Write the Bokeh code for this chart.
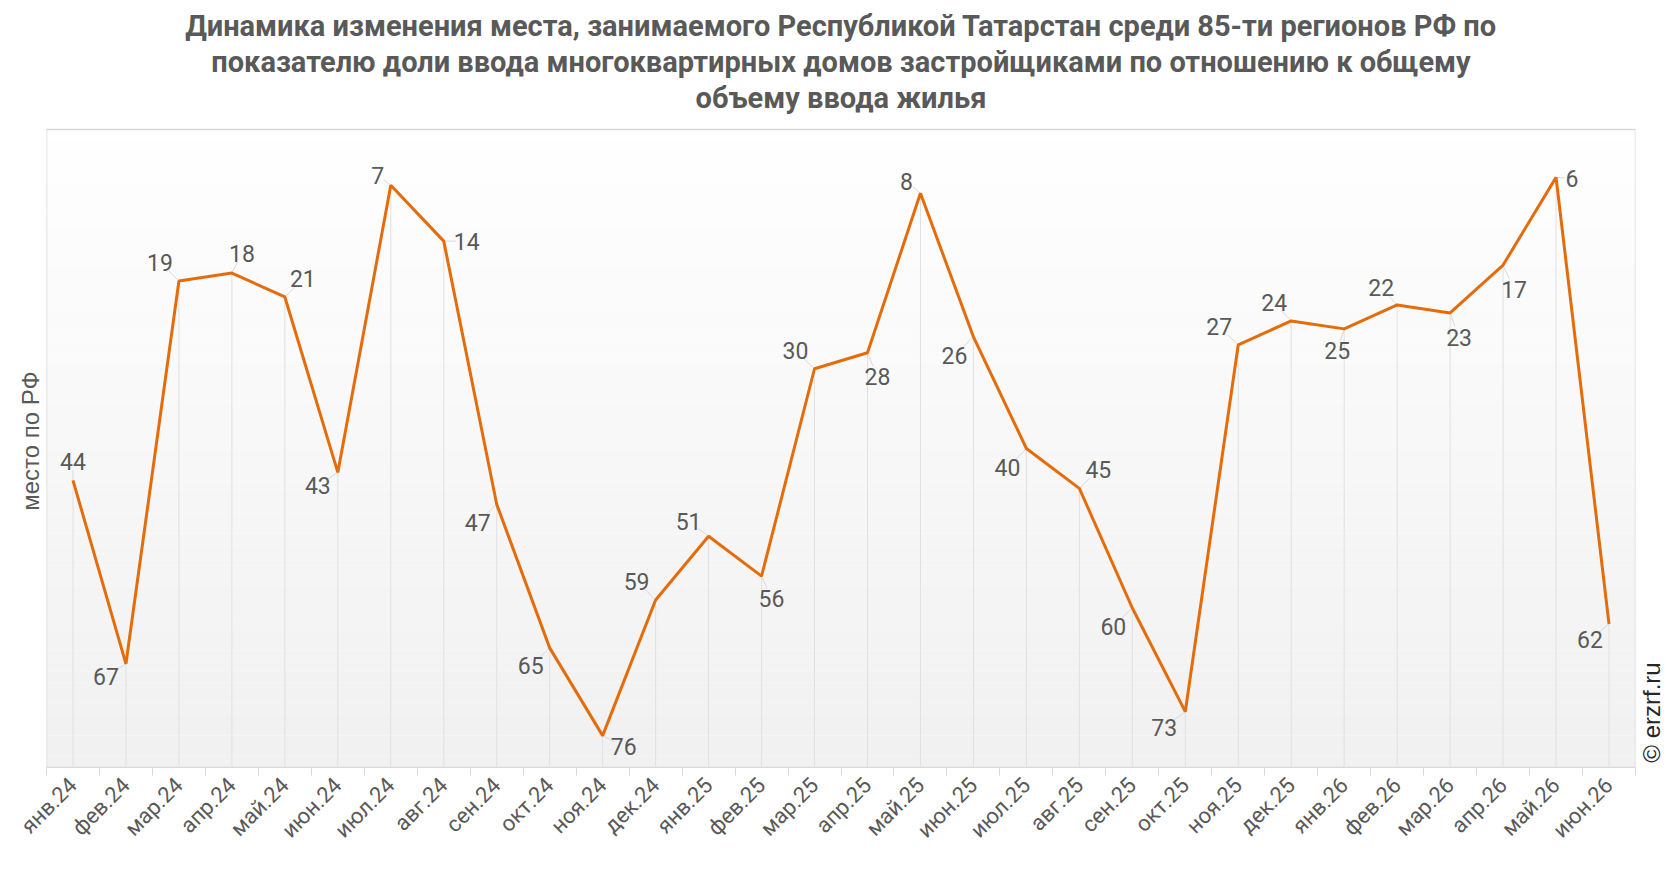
from math import pi

import numpy as np
from bokeh.core.properties import value
from bokeh.embed import file_html
from bokeh.layouts import row
from bokeh.models import ColumnDataSource, FixedTicker, Range1d, Title
from bokeh.plotting import figure
from bokeh.resources import INLINE

# months and place in the ranking (1 = best)
months = ["янв.24", "фев.24", "мар.24", "апр.24", "май.24", "июн.24",
          "июл.24", "авг.24", "сен.24", "окт.24", "ноя.24", "дек.24",
          "янв.25", "фев.25", "мар.25", "апр.25", "май.25", "июн.25",
          "июл.25", "авг.25", "сен.25", "окт.25", "ноя.25", "дек.25",
          "янв.26", "фев.26", "мар.26", "апр.26", "май.26", "июн.26"]
place = [44, 67, 19, 18, 21, 43, 7, 14, 47, 65, 76, 59,
         51, 56, 30, 28, 8, 26, 40, 45, 60, 73, 27, 24,
         25, 22, 23, 17, 6, 62]

title_lines = ["Динамика изменения места, занимаемого Республикой Татарстан среди 85-ти регионов РФ по",
               "показателю доли ввода многоквартирных домов застройщиками по отношению к общему",
               "объему ввода жилья"]

# where each value label sits relative to its point (pixels, +y is down)
label_dx = [0, -20, -19, 10, 18, -20, -13, 23, -19, -19, 21, -19,
            -20, 10, -19, 10, -14, -19, -19, 19, -19, -21, -19, -17,
            -7, -16, 9, 11, 16, -19]
label_dy = [-19, 13, -19, -20, -18, 13, -10, 0, 18, 18, 11, -19,
            -15, 22, -18, 24, -12, 19, 19, -19, 18, 16, -18, -18,
            22, -17, 25, 24, 1, 16]

GREY = "#595959"
ORANGE = "#e46c0a"
FONT = "Roboto"

W, H = 1640, 870
LEFT = 46
FRAME_W = 1589
BOX_TOP, BOX_BOTTOM = 129, 767     # grey plot box, pixels from the top
FRAME_TOP = 114                     # frame starts a little higher, leaving a gap under the title
Y_MAX = 80

n = len(months)
xs = [i + 0.5 for i in range(n)]
px_x = FRAME_W / n
px_y = (BOX_BOTTOM - BOX_TOP) / Y_MAX

src = ColumnDataSource(dict(
    x=xs, y=place, txt=[str(v) for v in place],
    dx=label_dx, dy=label_dy,
    lx=[x + 0.55 * d / px_x for x, d in zip(xs, label_dx)],
    ly=[y + 0.55 * d / px_y for y, d in zip(place, label_dy)],
    bottom=[Y_MAX] * n,
))

p = figure(width=W, height=H, output_backend="svg", toolbar_location=None,
           title=None, x_range=Range1d(0, n),
           y_range=Range1d(Y_MAX, -(BOX_TOP - FRAME_TOP) / px_y),
           min_border_left=LEFT, min_border_right=W - LEFT - FRAME_W,
           min_border_top=FRAME_TOP, min_border_bottom=H - BOX_BOTTOM)

# title lines, added from the plot outwards
for line in reversed(title_lines):
    p.add_layout(Title(text=line, align="center", text_font=FONT,
                       text_font_size="29px", text_font_style="bold",
                       text_color=GREY, standoff=0), "above")

p.background_fill_color = "white"
p.border_fill_color = "white"
p.outline_line_color = None
p.grid.visible = False

# soft white-to-grey background of the plot box, with its thin border
steps = 60
edges = np.linspace(0, Y_MAX, steps + 1)
shade = np.linspace(255, 241, steps).astype(int)
p.quad(left=0, right=n, top=edges[:-1], bottom=edges[1:],
       fill_color=["#%02x%02x%02x" % (s, s, s) for s in shade], line_color=None)
p.quad(left=0, right=n, top=0, bottom=Y_MAX, fill_color=None,
       line_color="#d9d9d9", line_width=1.5)

# drop lines from each point down to the axis
p.segment(x0="x", y0="y", x1="x", y1="bottom", source=src,
          line_color="#e0e0e0", line_width=1)
# leader lines to the labels
p.segment(x0="x", y0="y", x1="lx", y1="ly", source=src,
          line_color="#d9d9d9", line_width=1)

p.line("x", "y", source=src, line_color=ORANGE, line_width=3)

p.text("x", "y", text="txt", source=src, x_offset="dx", y_offset="dy",
       text_align="center", text_baseline="middle",
       text_font=value(FONT), text_font_size="23px", text_color=GREY)

xa = p.xaxis[0]
xa.ticker = FixedTicker(ticks=xs, minor_ticks=list(range(n + 1)))
xa.major_label_overrides = {x: m for x, m in zip(xs, months)}
xa.major_label_orientation = pi / 4
xa.major_label_text_font = FONT
xa.major_label_text_font_size = "22px"
xa.major_label_text_color = GREY
xa.major_tick_line_color = None
xa.major_tick_out = 8
xa.minor_tick_line_color = "#d9d9d9"
xa.minor_tick_in = 0
xa.minor_tick_out = 8
xa.axis_line_color = "#d9d9d9"
xa.major_label_standoff = 6

ya = p.yaxis[0]
ya.ticker = FixedTicker(ticks=[])
ya.bounds = (0, Y_MAX)
ya.axis_label = "место по РФ"
ya.axis_label_text_font = "Liberation Sans"
ya.axis_label_text_font_size = "24px"
ya.axis_label_text_font_style = "normal"
ya.axis_label_text_color = GREY
ya.axis_label_standoff = 3
ya.major_label_standoff = 0
ya.major_tick_line_color = None
ya.minor_tick_line_color = None
ya.major_tick_out = 0
ya.axis_line_color = None

# narrow strip on the right for the copyright note (its frame lines up with the plot's)
side = figure(width=24, height=H, output_backend="svg", toolbar_location=None,
              title=None, x_range=Range1d(0, 24), y_range=Range1d(BOX_BOTTOM, FRAME_TOP),
              x_axis_location=None, y_axis_location=None,
              min_border=0, outline_line_color=None)
side.grid.visible = False
side.text(x=[11], y=[712], text=["© erzrf.ru"], angle=pi / 2,
          text_align="center", text_baseline="middle",
          text_font=value("Liberation Sans"), text_font_size="24px",
          text_color="#262626")

layout = row(p, side)
open("out.html", "w").write(file_html(layout, INLINE))
